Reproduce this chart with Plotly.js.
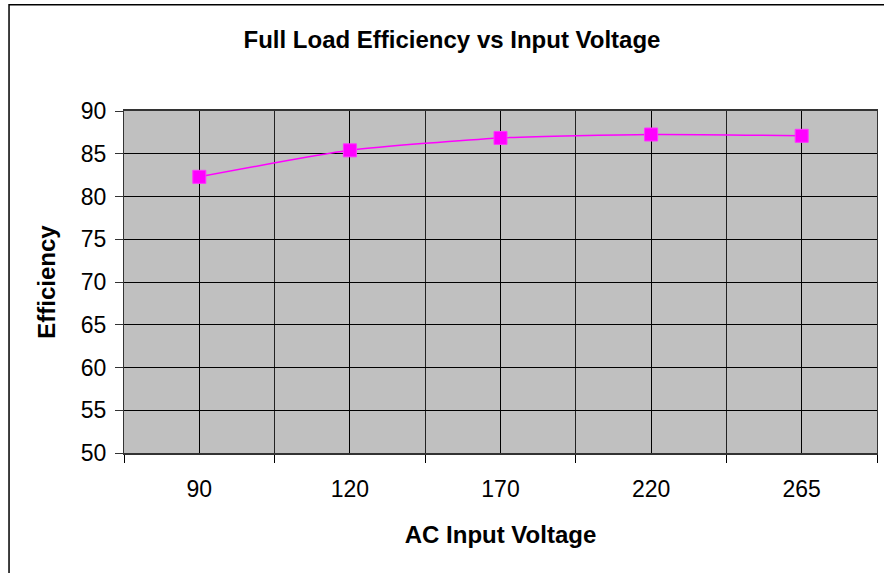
<!DOCTYPE html>
<html>
<head>
<meta charset="utf-8">
<script src="https://cdn.plot.ly/plotly-3.0.1.min.js"></script>
<style>html,body{margin:0;padding:0;background:#fff;}#chart{width:884px;height:573px;}</style>
</head>
<body>
<div id="chart"></div>
<script>
const categories = ['90', '120', '170', '220', '265'];
const efficiency = [82.3, 85.4, 86.85, 87.25, 87.1];
const yTicks = [50, 55, 60, 65, 70, 75, 80, 85, 90];

const xIdx = categories.map((c, i) => i);

const trace = {
  x: xIdx,
  y: efficiency,
  type: 'scatter',
  mode: 'lines+markers',
  line: {color: '#FF00FF', width: 1.5, shape: 'spline', smoothing: 0.6},
  marker: {symbol: 'square', size: 13, color: '#FF00FF', line: {color: '#FF33FF', width: 1}},
  hoverinfo: 'skip'
};

const L = 123.5, R = 7.3, T = 111.3, B = 119.7;
const W = 884 - L - R, H = 573 - T - B;

const layout = {
  width: 884, height: 573,
  margin: {l: L, r: R, t: T, b: B, pad: 0},
  paper_bgcolor: '#ffffff',
  plot_bgcolor: '#C0C0C0',
  font: {family: 'Liberation Sans, Arial, sans-serif', color: '#000'},
  showlegend: false,
  title: {
    text: '<b>Full Load Efficiency vs Input Voltage</b>',
    font: {size: 24, color: '#000'},
    x: 452 / 884, xanchor: 'center', xref: 'container',
    y: 1 - 40 / 573, yanchor: 'middle', yref: 'container'
  },
  xaxis: {
    range: [-0.5, categories.length - 0.5],
    tickmode: 'array', tickvals: xIdx, ticktext: categories,
    ticks: '', showgrid: true, gridcolor: '#000', gridwidth: 1,
    tickfont: {size: 23},
    ticklabelstandoff: 14,
    showline: true, linecolor: '#333', linewidth: 2, mirror: true,
    minor: {tick0: -0.5, dtick: 1, ticks: 'outside', ticklen: 8, tickcolor: '#000', tickwidth: 1, showgrid: true, gridcolor: '#222', gridwidth: 1},
    zeroline: false,
    title: {text: '<b>AC Input Voltage</b>', font: {size: 24}, standoff: 26}
  },
  yaxis: {
    range: [50, 90],
    tickmode: 'array', tickvals: yTicks,
    ticks: 'outside', ticklen: 8, tickcolor: '#333', tickwidth: 1,
    showgrid: true, gridcolor: '#000', gridwidth: 1,
    tickfont: {size: 23},
    ticklabelstandoff: 4,
    showline: true, linecolor: '#333', linewidth: 1, mirror: true,
    zeroline: false,
    title: {text: '<b>Efficiency</b>', font: {size: 24}, standoff: 18}
  },
  shapes: [{
    type: 'rect', xref: 'paper', yref: 'paper',
    x0: (8.5 - L) / W, x1: (900 - L) / W,
    y0: (573 - B - 590) / H, y1: (573 - B - 5) / H,
    line: {color: '#000', width: 1.5}, fillcolor: 'rgba(0,0,0,0)', layer: 'below'
  }]
};

Plotly.newPlot('chart', [trace], layout, {displayModeBar: false, staticPlot: true});
</script>
</body>
</html>
